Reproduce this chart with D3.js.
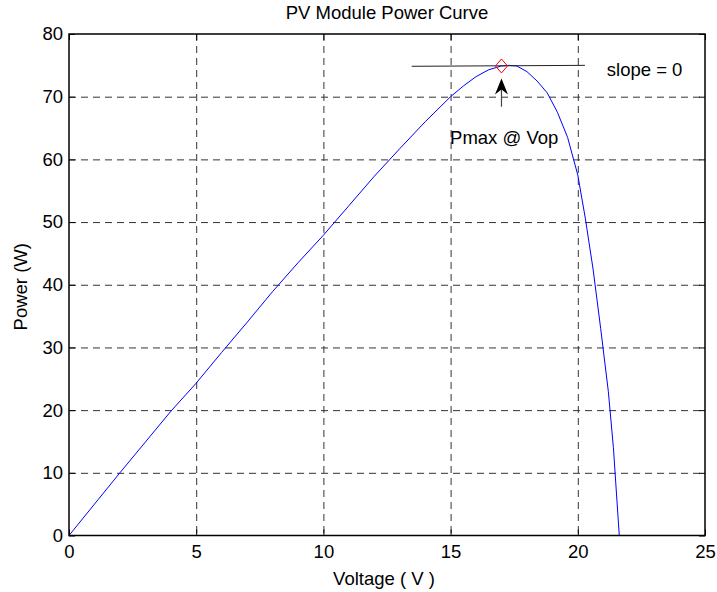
<!DOCTYPE html>
<html>
<head>
<meta charset="utf-8">
<script src="https://cdn.jsdelivr.net/npm/d3@7"></script>
<style>
  body { margin: 0; background: #fff; }
  text { font-family: "Liberation Sans", Arial, sans-serif; }
</style>
</head>
<body>
<div id="chart"></div>
<script>
// curve
const voltage = [0, 1, 2, 3, 4, 5, 6, 7, 8, 9, 10, 11, 12, 13, 14, 15, 15.5, 16, 16.5, 17, 17.3, 17.6, 18, 18.4, 18.8, 19.2, 19.6, 20, 20.3, 20.6, 20.9, 21.2, 21.4, 21.63];
const power = [0, 5.0, 10.0, 14.9, 19.8, 24.3, 29.2, 34.0, 38.9, 43.5, 47.9, 52.6, 57.3, 61.7, 66.0, 70.0, 71.7, 73.2, 74.3, 74.9, 75.0, 74.9, 74.0, 72.5, 70.6, 67.5, 63.5, 57.5, 50.5, 42.5, 33.0, 23.0, 14.0, 0];

const xTicks = [0, 5, 10, 15, 20, 25];
const yTicks = [0, 10, 20, 30, 40, 50, 60, 70, 80];

// annotations (data coordinates)
const pmax = { v: 17.0, p: 74.9 };
const tangentV = [13.47, 20.28];
const tangentP = [74.85, 75.0];
const arrowV = 17.0, arrowFrom = 68.4, arrowTo = 72.9;
const labels = [
  { text: "slope = 0", v: 21.14, p: 73.3 },
  { text: "Pmax @ Vop", v: 14.98, p: 62.4 }
];

const width = 717,
  height = 592,
  margin = { top: 34, right: 12, bottom: 56.5, left: 69 },
  fontSize = 18.5;

const svg = d3.select("#chart").append("svg")
  .attr("width", width)
  .attr("height", height);

const x = d3.scaleLinear().domain([0, 25]).range([margin.left, width - margin.right]);
const y = d3.scaleLinear().domain([0, 80]).range([height - margin.bottom, margin.top]);

const plotW = width - margin.left - margin.right,
  plotH = height - margin.top - margin.bottom;

// grid
svg.append("g")
  .attr("transform", `translate(0,${margin.top})`)
  .call(d3.axisBottom(x).tickValues(xTicks.slice(1, -1)).tickSize(plotH).tickFormat(""))
  .call(g => g.select(".domain").remove())
  .selectAll("line")
  .attr("stroke", "#333")
  .attr("stroke-dasharray", "7,5");

svg.append("g")
  .attr("transform", `translate(${margin.left},0)`)
  .call(d3.axisRight(y).tickValues(yTicks.slice(1, -1)).tickSize(plotW).tickFormat(""))
  .call(g => g.select(".domain").remove())
  .selectAll("line")
  .attr("stroke", "#333")
  .attr("stroke-dasharray", "7,5");

// power curve
const line = d3.line()
  .x((d, i) => x(voltage[i]))
  .y(d => y(d));

svg.append("path")
  .datum(power)
  .attr("fill", "none")
  .attr("stroke", "#0000ff")
  .attr("stroke-width", 1)
  .attr("d", line);

// tangent line at the peak
svg.append("line")
  .attr("x1", x(tangentV[0])).attr("y1", y(tangentP[0]))
  .attr("x2", x(tangentV[1])).attr("y2", y(tangentP[1]))
  .attr("stroke", "#222")
  .attr("stroke-width", 1);

// diamond marker
const dx = x(pmax.v), dy = y(pmax.p);
svg.append("path")
  .attr("d", `M${dx},${dy - 7}L${dx + 6},${dy}L${dx},${dy + 7}L${dx - 6},${dy}Z`)
  .attr("fill", "none")
  .attr("stroke", "#ff0000")
  .attr("stroke-width", 1);

// arrow
const ax = x(arrowV), ay0 = y(arrowFrom), ay1 = y(arrowTo);
svg.append("line")
  .attr("x1", ax).attr("y1", ay0)
  .attr("x2", ax).attr("y2", ay1 + 10)
  .attr("stroke", "#444")
  .attr("stroke-width", 1.2);
svg.append("path")
  .attr("d", `M${ax},${ay1}L${ax + 6.5},${ay1 + 16}L${ax},${ay1 + 11}L${ax - 6.5},${ay1 + 16}Z`)
  .attr("fill", "#000");

svg.selectAll(".note")
  .data(labels)
  .enter()
  .append("text")
  .attr("class", "note")
  .attr("x", d => x(d.v))
  .attr("y", d => y(d.p))
  .attr("font-size", fontSize)
  .attr("fill", "#000")
  .text(d => d.text);

// axes with inward ticks
const xAxis = svg.append("g")
  .attr("transform", `translate(0,${height - margin.bottom})`)
  .call(d3.axisBottom(x).tickValues(xTicks).tickSizeInner(-6).tickSizeOuter(0).tickPadding(9.5));
const yAxis = svg.append("g")
  .attr("transform", `translate(${margin.left},0)`)
  .call(d3.axisLeft(y).tickValues(yTicks).tickSizeInner(-6).tickSizeOuter(0).tickPadding(6));
svg.append("g")
  .attr("transform", `translate(0,${margin.top})`)
  .call(d3.axisTop(x).tickValues(xTicks).tickSizeInner(-6).tickSizeOuter(0).tickFormat(""));
svg.append("g")
  .attr("transform", `translate(${width - margin.right},0)`)
  .call(d3.axisRight(y).tickValues(yTicks).tickSizeInner(-6).tickSizeOuter(0).tickFormat(""));

svg.selectAll(".tick text")
  .attr("font-size", fontSize)
  .attr("font-family", "Liberation Sans, Arial, sans-serif")
  .attr("fill", "#000");
svg.selectAll(".domain").remove();

// box
svg.append("rect")
  .attr("x", margin.left)
  .attr("y", margin.top)
  .attr("width", plotW)
  .attr("height", plotH)
  .attr("fill", "none")
  .attr("stroke", "#000")
  .attr("stroke-width", 1.5);

// titles
svg.append("text")
  .attr("x", (margin.left + width - margin.right) / 2)
  .attr("y", 18.5)
  .attr("text-anchor", "middle")
  .attr("font-size", fontSize)
  .text("PV Module Power Curve");

svg.append("text")
  .attr("x", 384)
  .attr("y", 585)
  .attr("text-anchor", "middle")
  .attr("font-size", fontSize)
  .text("Voltage ( V )");

svg.append("text")
  .attr("transform", `translate(26.5,${(margin.top + height - margin.bottom) / 2 + 2}) rotate(-90)`)
  .attr("text-anchor", "middle")
  .attr("font-size", fontSize)
  .text("Power (W)");
</script>
</body>
</html>
